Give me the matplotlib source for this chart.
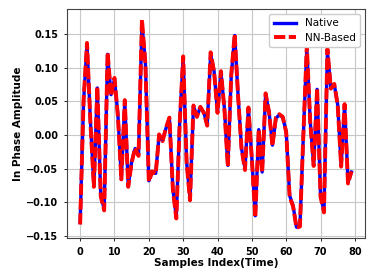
import numpy as np
import matplotlib
matplotlib.use("Agg")
import matplotlib.pyplot as plt

# in-phase amplitude, samples 0..79
native = [-0.130, 0.050, 0.135, 0.020, -0.075, 0.070, -0.090, -0.110, 0.120, 0.060,
          0.083, 0.030, -0.065, 0.050, -0.075, -0.040, -0.020, -0.030, 0.165, 0.108,
          -0.068, -0.055, -0.057, 0.000, -0.008, 0.010, 0.024, -0.080, -0.122, 0.020,
          0.115, -0.040, -0.095, 0.043, 0.028, 0.041, 0.034, 0.015, 0.120, 0.095,
          0.034, 0.093, 0.040, -0.045, 0.088, 0.148, 0.058, -0.020, -0.050, 0.040,
          -0.035, -0.120, 0.008, -0.055, 0.060, 0.035, -0.015, 0.025, 0.030, 0.026,
          0.005, -0.090, -0.105, -0.137, -0.135, 0.000, 0.130, 0.020, -0.045, 0.068,
          -0.090, -0.113, 0.125, 0.070, 0.075, 0.045, -0.045, 0.045, -0.070, -0.055]

nn_based = [-0.133, 0.052, 0.137, 0.018, -0.077, 0.072, -0.091, -0.112, 0.123, 0.058,
            0.085, 0.028, -0.066, 0.052, -0.077, -0.041, -0.019, -0.031, 0.172, 0.106,
            -0.069, -0.054, -0.058, 0.001, -0.009, 0.011, 0.026, -0.081, -0.124, 0.019,
            0.117, -0.041, -0.097, 0.044, 0.027, 0.042, 0.033, 0.014, 0.123, 0.094,
            0.033, 0.095, 0.039, -0.047, 0.090, 0.150, 0.057, -0.021, -0.052, 0.041,
            -0.036, -0.123, 0.009, -0.056, 0.062, 0.034, -0.016, 0.026, 0.031, 0.027,
            0.004, -0.092, -0.106, -0.138, -0.136, 0.001, 0.133, 0.019, -0.046, 0.070,
            -0.092, -0.115, 0.128, 0.069, 0.076, 0.044, -0.047, 0.046, -0.072, -0.054]

samples = np.arange(len(native))

fig = plt.figure(figsize=(3.74, 2.80), dpi=100)
ax = fig.add_axes([0.178, 0.149, 0.798, 0.819])

ax.plot(samples, native, color="blue", linewidth=2.4, label="Native")
ax.plot(samples, nn_based, color="red", linewidth=2.8, linestyle=(0, (2.9, 0.9)),
        label="NN-Based")

ax.grid(True, color="#c8c8c8", linewidth=0.8)
ax.set_axisbelow(True)
for s in ax.spines.values():
    s.set_color("#444444")
    s.set_linewidth(0.8)

ax.set_xticks([0, 10, 20, 30, 40, 50, 60, 70, 80])
ax.set_yticks([-0.15, -0.10, -0.05, 0.00, 0.05, 0.10, 0.15])
ax.tick_params(labelsize=7, length=2.5, width=0.6)
for lab in ax.get_xticklabels() + ax.get_yticklabels():
    lab.set_fontweight("bold")

ax.set_xlabel("Samples Index(Time)", fontsize=7.5, fontweight="bold", labelpad=1)
ax.set_ylabel("In Phase Amplitude", fontsize=7.5, fontweight="bold", labelpad=2)

ax.legend(loc="upper right", fontsize=7.5, handlelength=2.2, framealpha=1,
          borderpad=0.4, labelspacing=0.45)

fig.savefig("out.png", dpi=100)
